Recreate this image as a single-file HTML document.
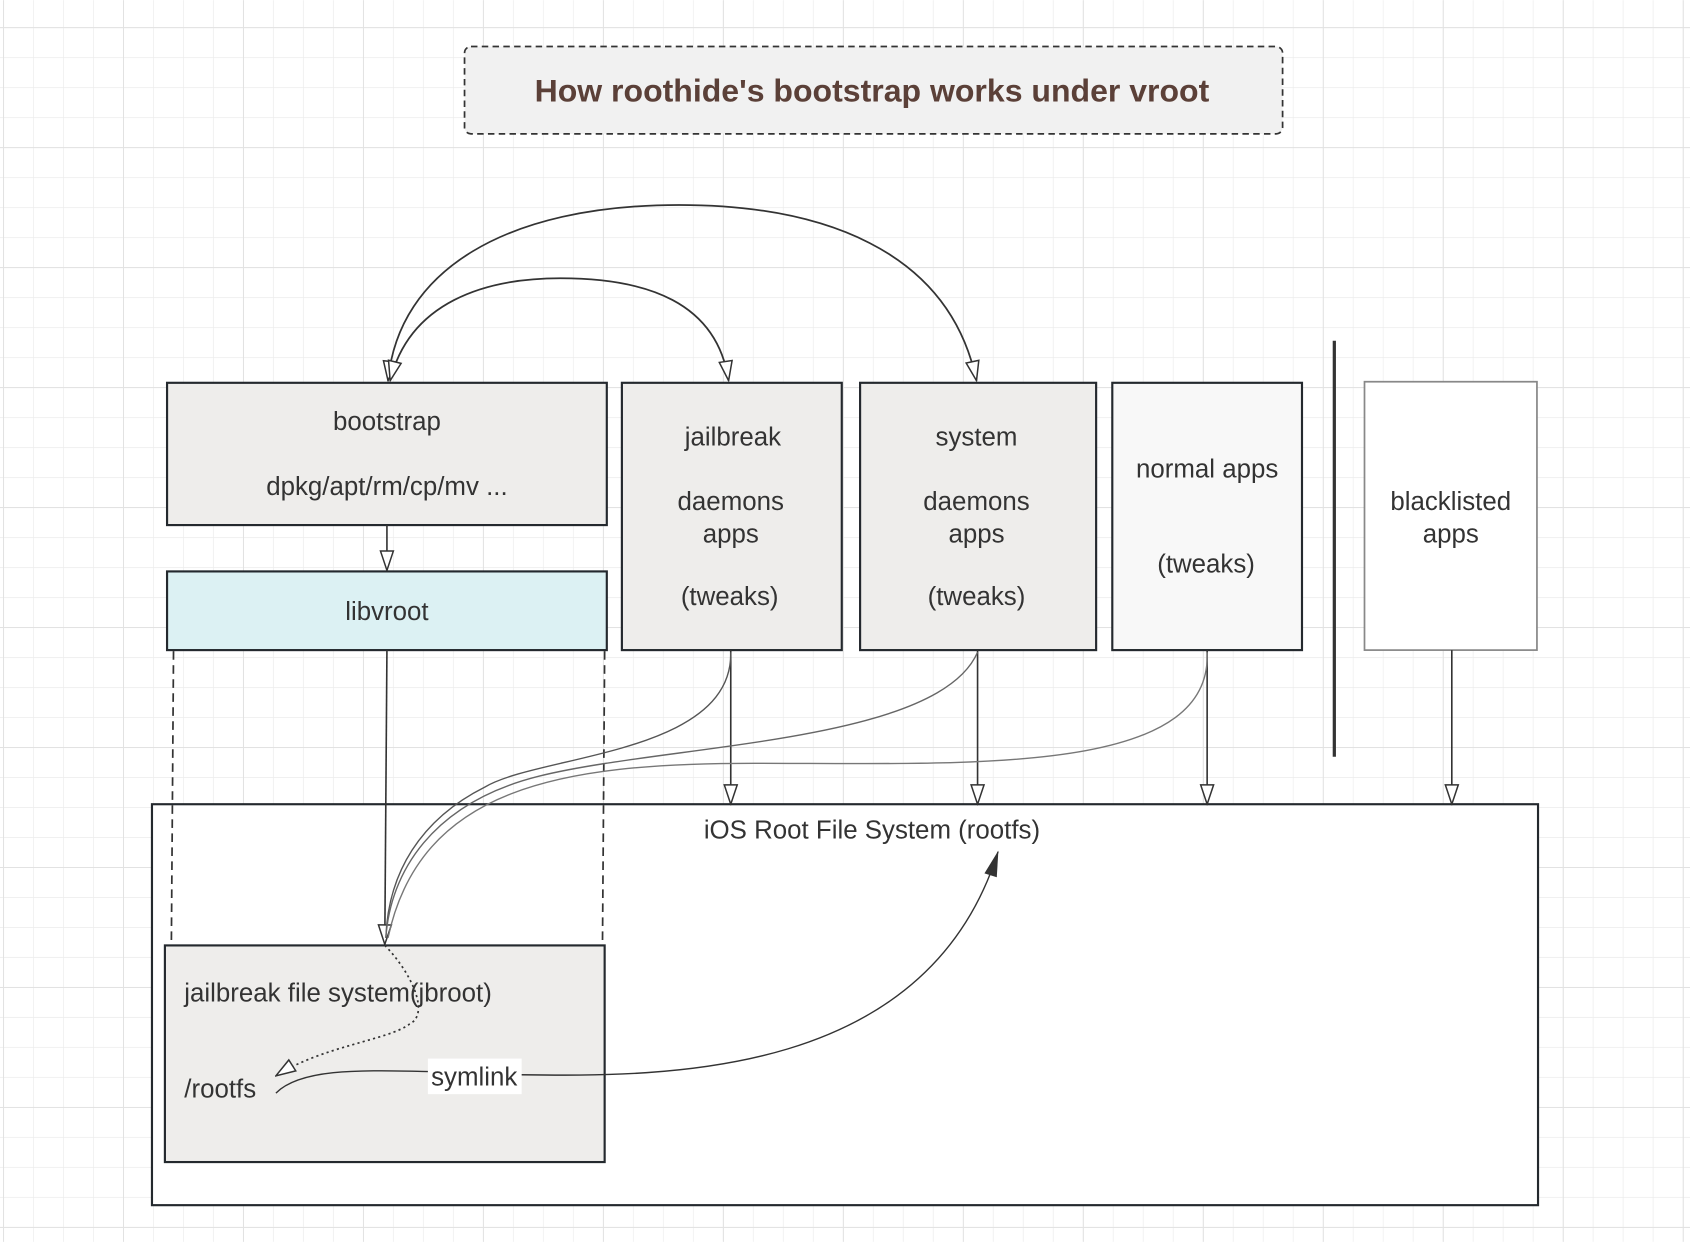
<!DOCTYPE html>
<html><head><meta charset="utf-8"><style>html,body{margin:0;padding:0;background:#fff}svg{display:block}</style></head>
<body>
<svg width="1690" height="1242" viewBox="0 0 1568 1152" xmlns="http://www.w3.org/2000/svg" font-family="'Liberation Sans', sans-serif">
<defs>
<pattern id="g" x="2.8" y="25" width="27.83" height="27.83" patternUnits="userSpaceOnUse">
<path d="M0 0H27.83M0 0V27.83" stroke="#ececec" stroke-width="1.3" fill="none"/>
</pattern>
<pattern id="G" x="2.8" y="25" width="111.32" height="111.32" patternUnits="userSpaceOnUse">
<path d="M0 0H111.32M0 0V111.32" stroke="#e2e2e2" stroke-width="1.8" fill="none"/>
</pattern>
<marker id="oa" markerWidth="20" markerHeight="16" refX="19" refY="8" orient="auto-start-reverse" markerUnits="userSpaceOnUse" viewBox="0 0 20 16">
<path d="M1 2 L19 8 L1 14 Z" fill="#fff" stroke="#333" stroke-width="1.4"/>
</marker>
<marker id="fa" markerWidth="26" markerHeight="14" refX="24" refY="7" orient="auto" markerUnits="userSpaceOnUse">
<path d="M1 1 L25 7 L1 13 Z" fill="#333"/>
</marker>
</defs>
<rect width="1568" height="1152" fill="#fff"/>
<rect width="1568" height="1152" fill="url(#g)"/>
<rect width="1568" height="1152" fill="url(#G)"/>

<!-- title -->
<rect x="431" y="43" width="759" height="81" rx="6" fill="#f1f1f1" stroke="#333" stroke-width="1.6" stroke-dasharray="6 4"/>
<text x="809" y="94" text-anchor="middle" font-size="29" font-weight="bold" fill="#5b4038" textLength="626" lengthAdjust="spacingAndGlyphs">How roothide's bootstrap works under vroot</text>

<!-- arcs -->
<path d="M360 353 C370 250 470 190 630 190 C760 190 880 230 906 353" fill="none" stroke="#333" stroke-width="1.6" marker-start="url(#oa)" marker-end="url(#oa)"/>
<path d="M362 353 C380 280 450 258 520 258 C600 258 665 280 676 353" fill="none" stroke="#333" stroke-width="1.6" marker-start="url(#oa)" marker-end="url(#oa)"/>

<!-- rootfs box -->
<rect x="141" y="746" width="1286" height="372" fill="#fff" stroke="#24292e" stroke-width="2"/>
<text x="809" y="778" text-anchor="middle" font-size="24" fill="#333">iOS Root File System (rootfs)</text>

<!-- boxes -->
<rect x="155" y="355" width="408" height="132" fill="#eeedeb" stroke="#24292e" stroke-width="2"/>
<g font-size="24" fill="#333" text-anchor="middle">
<text x="359" y="399">bootstrap</text>
<text x="359" y="459">dpkg/apt/rm/cp/mv ...</text>
</g>

<rect x="155" y="530" width="408" height="73" fill="#dcf1f3" stroke="#24292e" stroke-width="2"/>
<text x="359" y="575" text-anchor="middle" font-size="24" fill="#333">libvroot</text>

<rect x="577" y="355" width="204" height="248" fill="#eeedeb" stroke="#24292e" stroke-width="2"/>
<g font-size="24" fill="#333" text-anchor="middle">
<text x="680" y="413">jailbreak</text><text x="678" y="473">daemons</text><text x="678" y="503">apps</text><text x="677" y="561">(tweaks)</text>
</g>
<rect x="798" y="355" width="219" height="248" fill="#eeedeb" stroke="#24292e" stroke-width="2"/>
<g font-size="24" fill="#333" text-anchor="middle">
<text x="906" y="413">system</text><text x="906" y="473">daemons</text><text x="906" y="503">apps</text><text x="906" y="561">(tweaks)</text>
</g>
<rect x="1032" y="355" width="176" height="248" fill="#f8f8f8" stroke="#24292e" stroke-width="2"/>
<g font-size="24" fill="#333" text-anchor="middle">
<text x="1120" y="443">normal apps</text><text x="1119" y="531">(tweaks)</text>
</g>
<line x1="1238" y1="316" x2="1238" y2="702" stroke="#333" stroke-width="3"/>
<rect x="1266" y="354" width="160" height="249" fill="#fff" stroke="#888" stroke-width="1.6"/>
<g font-size="24" fill="#333" text-anchor="middle">
<text x="1346" y="473">blacklisted</text><text x="1346" y="503">apps</text>
</g>

<!-- vertical arrows -->
<line x1="359" y1="487" x2="359" y2="529" stroke="#333" stroke-width="1.5" marker-end="url(#oa)"/>
<line x1="678" y1="603" x2="678" y2="746" stroke="#333" stroke-width="1.5" marker-end="url(#oa)"/>
<line x1="907" y1="603" x2="907" y2="746" stroke="#333" stroke-width="1.5" marker-end="url(#oa)"/>
<line x1="1120" y1="603" x2="1120" y2="746" stroke="#333" stroke-width="1.5" marker-end="url(#oa)"/>
<line x1="1347" y1="603" x2="1347" y2="746" stroke="#333" stroke-width="1.5" marker-end="url(#oa)"/>

<!-- dashed sides -->
<line x1="161" y1="604" x2="159" y2="875" stroke="#333" stroke-width="1.6" stroke-dasharray="8 5"/>
<line x1="561" y1="604" x2="559" y2="875" stroke="#333" stroke-width="1.6" stroke-dasharray="8 5"/>

<!-- libvroot to jbroot -->
<line x1="359" y1="603" x2="357" y2="876" stroke="#333" stroke-width="1.5" marker-end="url(#oa)"/>
<path d="M678 605 C680 700 500 700 450 730 C390 760 360 810 358 870" fill="none" stroke="#555" stroke-width="1.3"/>
<path d="M907 605 C870 690 620 690 500 720 C400 745 362 810 358 870" fill="none" stroke="#666" stroke-width="1.3"/>
<path d="M1120 605 C1125 720 900 708 700 708 C520 708 390 730 360 870" fill="none" stroke="#777" stroke-width="1.3"/>

<!-- jbroot box -->
<rect x="153" y="877" width="408" height="201" fill="#eeedeb" stroke="#24292e" stroke-width="2"/>
<text x="171" y="929" font-size="24" fill="#333">jailbreak file system(jbroot)</text>
<text x="171" y="1018" font-size="24" fill="#333">/rootfs</text>
<path d="M357 877 C380 900 400 940 380 950 C360 965 300 970 256 998" fill="none" stroke="#333" stroke-width="1.6" stroke-dasharray="2 3" marker-end="url(#oa)"/>

<!-- symlink -->
<path d="M256 1014 C280 990 340 993 400 994 L482 997 C620 999 860 1000 926 790" fill="none" stroke="#333" stroke-width="1.3" marker-end="url(#fa)"/>
<rect x="397" y="982" width="87" height="33" fill="#fff"/>
<text x="440" y="1007" text-anchor="middle" font-size="24" fill="#333">symlink</text>
</svg>
</body></html>
